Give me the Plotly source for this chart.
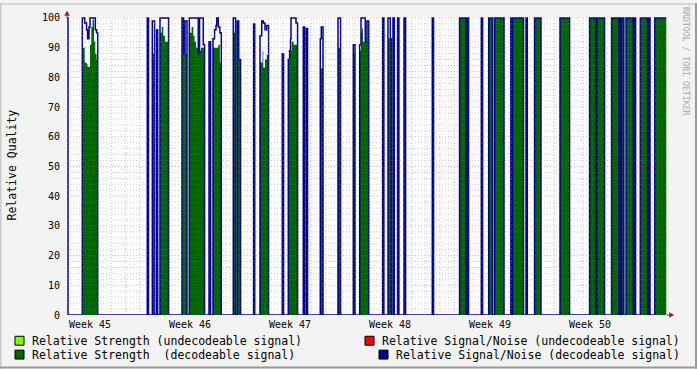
import plotly.graph_objects as go

# ---------------- data (time in days from the first grid day) ----------------
t_days = [
    -0.11, -0.04,
    0.96, 1.13, 1.26, 1.33, 1.43, 1.50, 1.59, 1.68, 1.78, 1.87, 1.96, 2.04,
    5.51, 5.60, 5.86, 6.02, 6.16, 6.24,
    6.40, 6.52, 6.63, 6.75, 7.00,
    7.94, 8.05, 8.15, 8.29,
    8.45, 8.61, 8.73, 8.82, 8.92, 9.08, 9.17, 9.27, 9.43, 9.52,
    9.83, 9.94,
    10.11, 10.22, 10.32, 10.37, 10.48, 10.59, 10.69,
    11.53, 11.69, 11.81, 11.91, 12.04,
    12.95, 13.03,
    13.40, 13.52, 13.58, 13.63, 13.75, 13.87, 14.00,
    14.96, 15.05,
    15.38, 15.47, 15.54, 15.57, 15.62, 15.76, 15.92, 16.03,
    16.43, 16.52, 16.64, 16.73,
    17.62, 17.69, 17.81,
    18.86, 19.04,
    19.93, 20.05,
    20.38, 20.47, 20.54, 20.61, 20.77, 20.89, 21.01,
    21.98, 22.07, 22.36, 22.52, 22.59, 22.71, 22.80, 23.03, 23.12, 23.48, 23.59,
    25.46, 25.55,
    27.37, 27.82, 27.91, 28.00, 28.89, 28.98, 29.41, 29.68, 29.82, 30.48,
    30.96, 31.01, 31.07, 31.85, 32.02, 32.11, 32.62, 33.07, 34.40, 35.07,
    36.47, 36.90, 36.99, 37.52, 38.01, 38.53, 38.59, 38.64, 38.71, 38.87,
    39.02, 39.53, 39.60, 39.69, 40.02, 40.53, 40.60, 40.70, 41.03,
]
snr = [
    100, 0,
    100, 98.3, 96, 93, 97, 100, 100, 100, 100, 96, 95, 0,
    100, 0, 99, 0, 96, 0,
    100, 100, 100, 100, 0,
    100, 88, 99, 0,
    100, 100, 100, 100, 100, 88, 100, 100, 91, 0,
    92, 0,
    93, 96, 97.5, 100, 97, 95, 0,
    100, 0, 99, 86, 0,
    98, 0,
    94, 99, 99, 98.3, 96, 97.5, 0,
    88, 0,
    86, 89, 93, 100, 100, 100, 98.3, 0,
    97, 0, 96.5, 0,
    93, 97, 0,
    100, 0,
    91, 0,
    91, 100, 100, 100, 92, 99, 0,
    100, 0, 100, 93, 0, 100, 0, 100, 0, 100, 0,
    100, 0,
    100, 0, 100, 0, 100, 0, 100, 0, 100, 0,
    100, 0, 100, 0, 100, 0, 100, 0, 100, 0,
    100, 0, 100, 0, 100, 0, 100, 0, 100, 0,
    100, 0, 100, 0, 100, 0, 100, 0, 100,
]
strength = [
    0, 0,
    90, 85, 84.5, 83.5, 83.5, 91, 97, 99.5, 92, 88, 86, 0,
    0, 0, 88, 0, 0, 0,
    95, 97, 94, 92, 0,
    88, 88, 88, 0,
    95, 97, 94, 92, 90, 88, 89, 90, 90, 0,
    0, 0,
    90, 90, 90, 90, 91, 85, 0,
    95, 0, 86, 86, 0,
    0, 0,
    85, 85, 88.7, 83.3, 86, 87.5, 0,
    0, 0,
    86, 89, 89, 89, 92, 91, 91, 0,
    0, 0, 0, 0,
    83, 83, 0,
    90, 0,
    88, 0,
    89, 95, 96.5, 92, 92, 92, 0,
    0, 0, 93, 93, 0, 0, 0, 0, 0, 0, 0,
    0, 0,
    100, 0, 100, 0, 0, 0, 100, 0, 100, 0,
    0, 0, 100, 0, 0, 0, 100, 0, 100, 0,
    100, 0, 100, 0, 100, 0, 0, 0, 100, 0,
    100, 0, 0, 0, 100, 0, 0, 0, 100,
]
t_end = 41.84

week_labels = ["Week 45", "Week 46", "Week 47", "Week 48", "Week 49", "Week 50"]
week_label_days = [1.5, 8.5, 15.5, 22.5, 29.5, 36.5]
week_grid_days = [5, 12, 19, 26, 33, 40]
y_ticks = list(range(0, 101, 10))

legend_items = [
    ("Relative Strength (undecodeable signal)", "#7FFF00"),
    ("Relative Signal/Noise (undecodeable signal)", "#FF0000"),
    ("Relative Strength  (decodeable signal)", "#006600"),
    ("Relative Signal/Noise (decodeable signal)", "#000099"),
]

# ---------------- layout helpers ----------------
W, H = 697, 369
L, R, T, B = 67, 30, 14, 54
PW = W - L - R
PH = H - T - B


def px_x(px):
    return (px - L) / PW


def px_y(py):
    return (H - B - py) / PH


GREEN = "#006600"
NAVY = "#000091"
MONO = "DejaVu Sans Mono"
MINOR = "rgba(128,128,128,0.38)"
MAJOR = "rgba(230,60,60,0.42)"
DASH = "1px,2px"

xs = t_days + [t_end]
snr_y = snr + [snr[-1]]
str_y = strength + [strength[-1]]

fig = go.Figure()
fig.add_trace(go.Scatter(
    x=xs, y=str_y, mode="lines", line=dict(shape="hv", width=0, color=GREEN),
    fill="tozeroy", fillcolor=GREEN, hoverinfo="skip", showlegend=False))
fig.add_trace(go.Scatter(
    x=xs, y=snr_y, mode="lines", line=dict(shape="hv", width=1.5, color=NAVY),
    hoverinfo="skip", showlegend=False))

shapes = []
# vertical grid (daily minor, weekly major)
for d in range(0, 42):
    col = MAJOR if d in week_grid_days else MINOR
    shapes.append(dict(type="line", xref="x", yref="y", x0=d, x1=d, y0=0, y1=100,
                       line=dict(color=col, width=1, dash=DASH), layer="above"))
# horizontal grid
for v in range(2, 101, 2):
    col = MAJOR if v % 10 == 0 else MINOR
    shapes.append(dict(type="line", xref="paper", yref="y", x0=0, x1=1, y0=v, y1=v,
                       line=dict(color=col, width=1, dash=DASH), layer="above"))

# axis arrows
ARROW = "#A11D1D"
shapes.append(dict(type="path", xref="paper", yref="paper",
                   path=f"M {px_x(64.2)},{px_y(12.8)} L {px_x(69.8)},{px_y(12.8)} L {px_x(67)},{px_y(7.8)} Z",
                   fillcolor=ARROW, line=dict(width=0), layer="above"))
shapes.append(dict(type="path", xref="paper", yref="paper",
                   path=f"M {px_x(669.2)},{px_y(312.2)} L {px_x(669.2)},{px_y(317.8)} L {px_x(674.2)},{px_y(315)} Z",
                   fillcolor=ARROW, line=dict(width=0), layer="above"))
shapes.append(dict(type="line", xref="paper", yref="paper", x0=px_x(667), x1=px_x(669.5),
                   y0=px_y(315), y1=px_y(315), line=dict(color=ARROW, width=1), layer="above"))
shapes.append(dict(type="line", xref="paper", yref="paper", x0=px_x(67), x1=px_x(67),
                   y0=px_y(15), y1=px_y(12.5), line=dict(color=ARROW, width=1), layer="above"))

# outer 3D frame
shapes.append(dict(type="line", xref="paper", yref="paper", x0=px_x(0), x1=px_x(W),
                   y0=px_y(0.75), y1=px_y(0.75), line=dict(color="#CBCBCB", width=1.5), layer="above"))
shapes.append(dict(type="line", xref="paper", yref="paper", x0=px_x(0.75), x1=px_x(0.75),
                   y0=px_y(0), y1=px_y(H), line=dict(color="#CBCBCB", width=1.5), layer="above"))
shapes.append(dict(type="line", xref="paper", yref="paper", x0=px_x(0), x1=px_x(W),
                   y0=px_y(H - 1), y1=px_y(H - 1), line=dict(color="#999999", width=2), layer="above"))
shapes.append(dict(type="line", xref="paper", yref="paper", x0=px_x(W - 1), x1=px_x(W - 1),
                   y0=px_y(0), y1=px_y(H), line=dict(color="#999999", width=2), layer="above"))

annotations = []
for lbl, d in zip(week_labels, week_label_days):
    annotations.append(dict(x=d, xref="x", y=px_y(324.5), yref="paper", text=lbl,
                            showarrow=False, xanchor="center", yanchor="middle",
                            font=dict(family=MONO, size=10, color="#000000")))

# legend (manual, RRDtool style)
legend_pos = [(15, 336.5, 30), (365, 336.5, 380), (15, 350.5, 30), (379, 350.5, 394)]
for (label, col), (bx, by, tx) in zip(legend_items, legend_pos):
    shapes.append(dict(type="rect", xref="paper", yref="paper",
                       x0=px_x(bx), x1=px_x(bx + 9), y0=px_y(by + 9), y1=px_y(by),
                       fillcolor=col, line=dict(color="#000000", width=1), layer="above"))
    annotations.append(dict(x=px_x(tx), xref="paper", y=px_y(by + 4.7), yref="paper",
                            text=label.replace(" ", "&nbsp;"), showarrow=False,
                            xanchor="left", yanchor="middle",
                            font=dict(family=MONO, size=11.5, color="#000000")))

# y-axis title
annotations.append(dict(x=px_x(12), xref="paper", y=px_y(164), yref="paper",
                        text="Relative Quality", textangle=-90, showarrow=False,
                        xanchor="center", yanchor="middle",
                        font=dict(family=MONO, size=11.5, color="#000000")))
# watermark
annotations.append(dict(x=px_x(686.5), xref="paper", y=px_y(59), yref="paper",
                        text="RRDTOOL / TOBI OETIKER", textangle=90, showarrow=False,
                        xanchor="center", yanchor="middle",
                        font=dict(family=MONO, size=8.2, color="#AAAAAA")))

fig.update_layout(
    width=W, height=H,
    margin=dict(l=L, r=R, t=T, b=B, pad=0),
    paper_bgcolor="#F3F3F3", plot_bgcolor="#FFFFFF",
    showlegend=False,
    shapes=shapes, annotations=annotations,
    xaxis=dict(range=[-0.11, 41.89], showgrid=False, zeroline=False, showline=False,
               showticklabels=False, ticks="", fixedrange=True),
    yaxis=dict(range=[0, 100.3333], showgrid=False, zeroline=False, showline=False,
               tickmode="array", tickvals=y_ticks, ticktext=[str(v) for v in y_ticks],
               ticks="", ticklabelstandoff=6,
               tickfont=dict(family=MONO, size=10, color="#000000"), fixedrange=True),
)

fig.write_html(
    "out.html",
    config={"displayModeBar": False, "staticPlot": True},
    post_script="document.body.style.margin='0px';document.body.style.overflow='hidden';",
)
